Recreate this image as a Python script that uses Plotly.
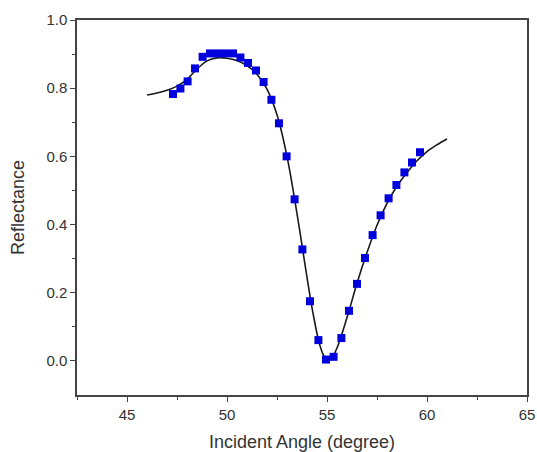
import plotly.graph_objects as go

# Measured data (blue squares)
angle_meas = [47.3, 47.67, 48.03, 48.4, 48.78, 49.15, 49.53, 49.9, 50.3, 50.67,
              51.05, 51.45, 51.83, 52.22, 52.6, 52.98, 53.38, 53.77, 54.15, 54.57,
              54.95, 55.33, 55.72, 56.1, 56.5, 56.9, 57.28, 57.68, 58.08, 58.47,
              58.87, 59.25, 59.65]
refl_meas = [0.783, 0.799, 0.820, 0.858, 0.892, 0.902, 0.902, 0.902, 0.902, 0.890,
             0.874, 0.852, 0.818, 0.766, 0.697, 0.600, 0.474, 0.327, 0.175, 0.061,
             0.004, 0.012, 0.067, 0.147, 0.226, 0.302, 0.369, 0.427, 0.477, 0.516,
             0.553, 0.582, 0.612]

# Fitted curve (black line)
angle_fit = [46.0, 46.5, 47.0, 47.5, 48.0, 48.5, 49.0, 49.5, 50.0, 50.5, 51.0,
             51.5, 52.0, 52.5, 53.0, 53.5, 54.0, 54.3, 54.6, 54.8, 55.0, 55.2,
             55.5, 56.0, 56.5, 57.0, 57.5, 58.0, 58.5, 59.0, 59.5, 60.0, 60.5, 61.0]
refl_fit = [0.780, 0.786, 0.794, 0.806, 0.826, 0.856, 0.880, 0.889, 0.888, 0.881,
            0.866, 0.841, 0.797, 0.722, 0.600, 0.432, 0.245, 0.140, 0.055, 0.020,
            0.004, 0.006, 0.038, 0.127, 0.228, 0.318, 0.398, 0.462, 0.513, 0.553,
            0.587, 0.614, 0.634, 0.651]

FONT = "Liberation Sans, Arial"

fig = go.Figure()
fig.add_trace(go.Scatter(x=angle_fit, y=refl_fit, mode="lines", line_shape="spline",
                         line=dict(color="#1a1a1a", width=1.6), showlegend=False))
fig.add_trace(go.Scatter(x=angle_meas, y=refl_meas, mode="markers",
                         marker=dict(symbol="square", size=8, color="#0000dd",
                                     line=dict(width=0)), showlegend=False))

axis_common = dict(showgrid=False, zeroline=False, showline=True, linecolor="#444444",
                   linewidth=1.5, mirror=True, ticks="outside", ticklen=5, tickwidth=1.2,
                   tickcolor="#444444", automargin=False,
                   tickfont=dict(family=FONT, size=15, color="#333333"))
fig.update_xaxes(range=[42.5, 65], tickvals=[45, 50, 55, 60, 65],
                 minor=dict(tickvals=[42.5, 47.5, 52.5, 57.5, 62.5], ticks="outside",
                            ticklen=3, tickcolor="#444444"),
                 title=dict(text="Incident Angle (degree)", standoff=14,
                            font=dict(family=FONT, size=18, color="#333333")),
                 **axis_common)
fig.update_yaxes(range=[-0.1, 1.0], tickvals=[0, 0.2, 0.4, 0.6, 0.8, 1.0],
                 ticktext=["0.0", "0.2", "0.4", "0.6", "0.8", "1.0"],
                 minor=dict(tickvals=[0.1, 0.3, 0.5, 0.7, 0.9], ticks="outside",
                            ticklen=3, tickcolor="#444444"),
                 title=dict(text="Reflectance", standoff=17,
                            font=dict(family=FONT, size=18, color="#333333")),
                 **axis_common)
fig.update_layout(width=537, height=452, margin=dict(l=77, r=10, t=20, b=57),
                  plot_bgcolor="white", paper_bgcolor="white")
fig.write_html("out.html", config={"displayModeBar": False})

# remove the default page margin so the figure fills the window exactly
with open("out.html", encoding="utf-8") as f:
    html = f.read()
html = html.replace("<head>", "<head><style>html,body{margin:0;padding:0;overflow:hidden;}</style>", 1)
with open("out.html", "w", encoding="utf-8") as f:
    f.write(html)
